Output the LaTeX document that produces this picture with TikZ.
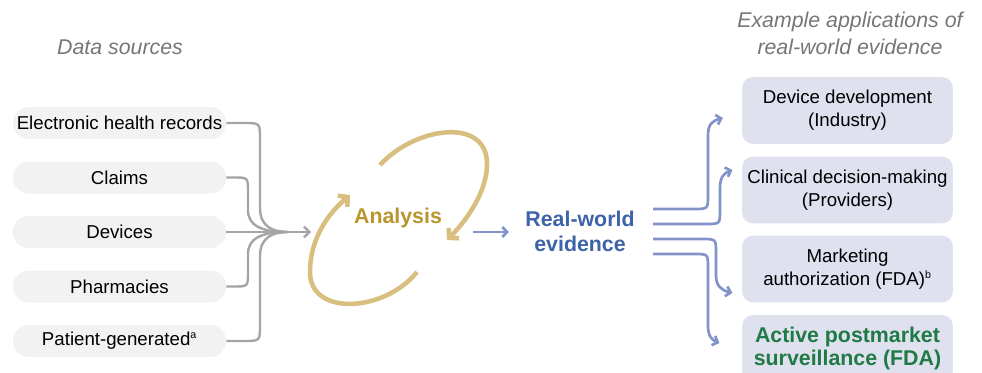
\documentclass[tikz,border=0pt]{standalone}
\usepackage{fontspec}
\setmainfont{Liberation Sans}
\usetikzlibrary{arrows.meta}

\definecolor{boxgray}{HTML}{F2F2F2}
\definecolor{boxlav}{HTML}{DFE1EF}
\definecolor{linegray}{HTML}{A5A5A5}
\definecolor{lineblue}{HTML}{8193C9}
\definecolor{loopgold}{HTML}{D9BF7F}
\definecolor{textgold}{HTML}{B8952D}
\definecolor{textblue}{HTML}{3D63A8}
\definecolor{textgreen}{HTML}{1F7A46}
\definecolor{headgray}{HTML}{767676}

\begin{document}
\begin{tikzpicture}[x=0.75pt,y=0.75pt]
		% Define styles for boxes and connectors
		\tikzset{
			srcbox/.style={fill=boxgray, rounded corners=12pt, minimum width=160pt, minimum height=24pt, inner sep=0pt, font=\fontsize{14}{16.8}\selectfont},
			appbox/.style={fill=boxlav, rounded corners=8pt, minimum width=158pt, minimum height=50pt, inner sep=0pt, align=center, font=\fontsize{14}{17}\selectfont},
			head/.style={text=headgray, align=center, font=\fontsize{16}{20}\selectfont\itshape},
			src/.style={draw=linegray, line width=1.8pt},
			app/.style={draw=lineblue, line width=2pt, -{Straight Barb[length=3.5pt,width=7.5pt]}},
			loop/.style={draw=loopgold, line width=3.4pt, -{Straight Barb[length=5pt,width=11pt]}}
		}
		\useasboundingbox (0,0) rectangle (982,372);
		
		% Headings
		\node[head] (srchead) at (120,325) {Data sources};
		\node[head] (apphead) at (850,338.5) {Example applications of\\real-world evidence};
		
		% Data source boxes
		\node[srcbox] (ehr) at (119.5,249) {Electronic health records};
		\node[srcbox] (claims) at (119.5,194.5) {Claims};
		\node[srcbox] (devices) at (119.5,140) {Devices};
		\node[srcbox] (pharm) at (119.5,85.5) {Pharmacies};
		\node[srcbox] (patient) at (119.5,31) {Patient-generated\textsuperscript{\footnotesize a}};
		
		% Merge the sources into the analysis loop
		\coordinate (join) at (288,140);
		\coordinate (loopin) at (311,140);
		\draw[src] (ehr.east) -- (244,249) .. controls (260,249) .. (260,233) -- (260,164) .. controls (260,146) and (272,140) .. (join);
		\draw[src] (claims.east) -- (234,194.5) .. controls (248,194.5) .. (248,180) -- (248,162) .. controls (248,146) and (262,140) .. (join);
		\draw[src] (pharm.east) -- (234,85.5) .. controls (248,85.5) .. (248,100) -- (248,118) .. controls (248,134) and (262,140) .. (join);
		\draw[src] (patient.east) -- (244,31) .. controls (260,31) .. (260,47) -- (260,116) .. controls (260,134) and (272,140) .. (join);
		\draw[src, -{Straight Barb[length=4pt,width=8pt]}] (devices.east) -- (loopin);
		
		% Analysis loop
		\draw[loop] (380,207) .. controls (415,245) and (485,255) .. (487,210) .. controls (488,180) and (465,150) .. (447,132);
		\draw[loop] (417,100) .. controls (385,60) and (310,55) .. (310,100) .. controls (310,135) and (330,160) .. (350,177);
		\node[text=textgold, font=\fontsize{16}{19}\selectfont\bfseries] (analysis) at (398,154) {Analysis};
		
		% Real-world evidence
		\node[text=textblue, align=center, font=\fontsize{16}{18.8}\selectfont\bfseries] (rwe) at (580,141) {Real-world\\evidence};
		\coordinate (loopout) at (473,140);
		\draw[app, shorten >=9pt] (loopout) -- (rwe.west |- loopout);
		
		% Application boxes
		\node[appbox] (dev) at (847.5,261.5) {Device development\\(Industry)};
		\node[appbox] (clin) at (847.5,182) {Clinical decision-making\\(Providers)};
		\node[appbox] (mkt) at (847.5,103) {Marketing\\authorization (FDA)\textsuperscript{\footnotesize b}};
		\node[appbox, text=textgreen, font=\fontsize{16}{17.5}\selectfont\bfseries] (pms) at (847.5,23.5) {Active postmarket\\surveillance (FDA)};
		
		% Fan out to the applications
		\coordinate (o1) at (653,163);
		\coordinate (o2) at (653,148);
		\coordinate (o3) at (653,133);
		\coordinate (o4) at (653,118);
		\draw[app] (o1) -- (694,163) .. controls (708,163) .. (708,177) -- (708,236) .. controls (708,248) and (712,251) .. ([shift={(-19,-7.5)}]dev.west);
		\draw[app] (o2) -- (706,148) .. controls (720,148) .. (720,162) -- (720,184) .. controls (720,195) and (724,199) .. ([shift={(-9.5,20)}]clin.west);
		\draw[app] (o3) -- (702,133) .. controls (716,133) .. (716,119) -- (716,97) .. controls (716,86) and (721,82) .. ([shift={(-9.5,-24)}]mkt.west);
		\draw[app] (o4) -- (694,118) .. controls (708,118) .. (708,104) -- (708,46) .. controls (708,36) and (712,32) .. ([shift={(-22.5,5.5)}]pms.west);
	\end{tikzpicture}
\end{document}
